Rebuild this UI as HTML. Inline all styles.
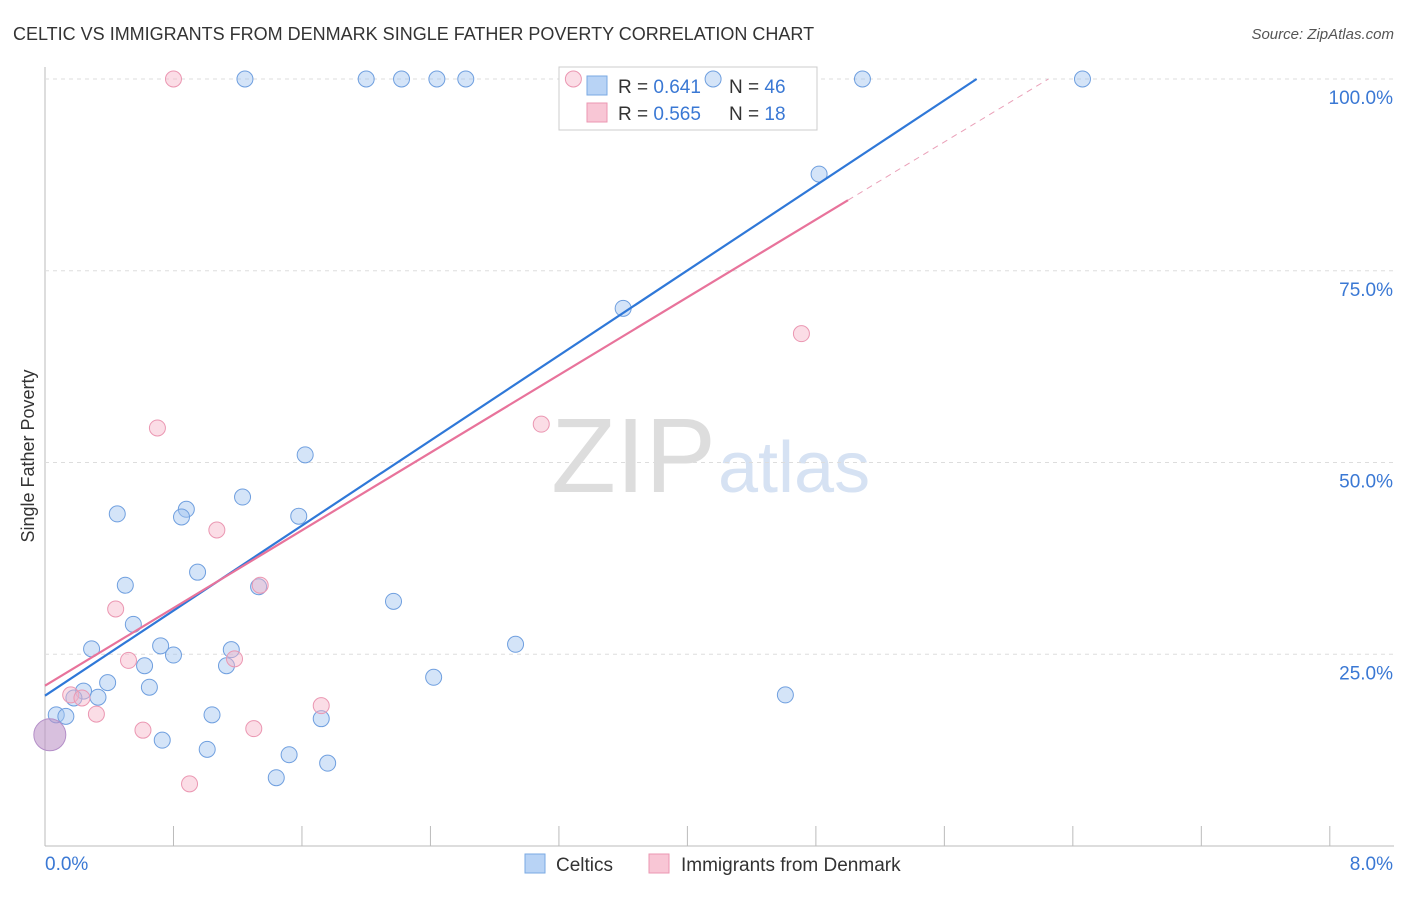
<!DOCTYPE html>
<html><head><meta charset="utf-8"><style>
body{margin:0;background:#fff;font-family:"Liberation Sans",sans-serif;}
svg text{font-family:"Liberation Sans",sans-serif;}
</style></head><body>
<svg id="c" width="1406" height="892" xmlns="http://www.w3.org/2000/svg">
<text x="13" y="40" font-size="18" fill="#333">CELTIC VS IMMIGRANTS FROM DENMARK SINGLE FATHER POVERTY CORRELATION CHART</text>
<text x="1394" y="39" font-size="15" fill="#555" text-anchor="end" font-style="italic">Source: ZipAtlas.com</text>
<text x="716" y="492" font-size="106" fill="#ddd" text-anchor="end" font-family="Liberation Serif">ZIP</text>
<text x="718" y="492" font-size="72" fill="#d6e2f3">atlas</text>
<text transform="translate(34,456) rotate(-90)" font-size="18" fill="#333" text-anchor="middle">Single Father Poverty</text>
<g id="grid"></g>
<g>
<rect x="559" y="67" width="258" height="63" fill="#fff" stroke="#ccc"/>
<rect x="587" y="76" width="20" height="19" fill="#b8d3f5" stroke="#7aa9e3"/>
<rect x="587" y="103" width="20" height="19" fill="#f8c6d5" stroke="#eb97b2"/>
<text x="618" y="93" font-size="19" fill="#333">R = <tspan fill="#3a78d4">0.641</tspan>  <tspan x="729">N = </tspan><tspan fill="#3a78d4">46</tspan></text>
<text x="618" y="120" font-size="19" fill="#333">R = <tspan fill="#3a78d4">0.565</tspan>  <tspan x="729">N = </tspan><tspan fill="#3a78d4"> 18</tspan></text>
</g>
<g id="pts"></g><g id="lines"></g>
<g>
<rect x="525" y="854" width="20" height="19" fill="#b8d3f5" stroke="#7aa9e3"/>
<text x="556" y="871" font-size="19" fill="#333">Celtics</text>
<rect x="649" y="854" width="20" height="19" fill="#f8c6d5" stroke="#eb97b2"/>
<text x="681" y="871" font-size="19" fill="#333">Immigrants from Denmark</text>
</g>
</svg>
<script>
const xTicks=[0,0.8,1.6,2.4,3.2,4,4.8,5.6,6.4,7.2,8];
const yTicks=[25,50,75,100];
const blueX=[1.245,2.0,2.22,2.44,2.62,4.16,5.09,6.46,4.82,3.6,1.62,1.23,0.88,0.85,0.45,1.58,0.95,0.5,1.33,2.17,0.55,0.29,0.72,0.8,1.16,2.93,0.62,1.13,0.39,0.65,2.42,0.24,0.33,0.18,4.61,0.07,0.13,1.04,1.72,0.73,1.01,1.52,1.76,1.44];
const blueY=[100,100,100,100,100,100,100,100,87.6,70.1,51.0,45.5,43.9,42.9,43.3,43.0,35.7,34.0,33.8,31.9,28.9,25.7,26.1,24.9,25.6,26.3,23.5,23.5,21.3,20.7,22.0,20.2,19.4,19.3,19.7,17.1,16.9,17.1,16.6,13.8,12.6,11.9,10.8,8.9];
const pinkX=[0.8,3.29,0.7,3.09,4.71,1.07,0.44,1.34,0.52,1.18,0.16,0.23,0.32,1.72,0.61,1.3,0.9];
const pinkY=[100,100,54.5,55.0,66.8,41.2,30.9,34.0,24.2,24.4,19.7,19.3,17.2,18.3,15.1,15.3,8.1];
const bigX=[0.03], bigY=[14.5];
const blueTrend=[19.6,13.86], pinkTrend=[20.9,12.66];
const X=v=>45+v*160.6, Y=v=>846-v*7.67;
const NS="http://www.w3.org/2000/svg";
function mk(p,t,a){const e=document.createElementNS(NS,t);for(const k in a)e.setAttribute(k,a[k]);p.appendChild(e);return e;}
const g=document.getElementById('grid');
const ax=mk(g,'line',{x1:45,y1:67,x2:45,y2:846,stroke:'#bbb'});


const bx=mk(g,'line',{x1:45,y1:846,x2:1394,y2:846,stroke:'#bbb'});


yTicks.forEach(t=>{
 const l=mk(g,'line',{x1:45,y1:Y(t),x2:1394,y2:Y(t),stroke:'#ddd','stroke-dasharray':'4,4'});
 
 
 const tx=mk(g,'text',{x:1393,y:Y(t)+25,'font-size':19,fill:'#3a78d4','text-anchor':'end'});
 tx.textContent=t.toFixed(1)+'%';
 
 
});
xTicks.forEach(t=>{
 const l=mk(g,'line',{x1:X(t),y1:826,x2:X(t),y2:846,stroke:'#bbb'});
 
 
});
[[0,45,'start'],[8,1393,'end']].forEach(([v,x,a])=>{
 const tx=mk(g,'text',{x:x,y:870,'font-size':19,fill:'#3a78d4','text-anchor':a});
 tx.textContent=v.toFixed(1)+'%';
 
 
});
const p=document.getElementById('pts');
blueX.forEach((v,i)=>{
 const c=mk(p,'circle',{cx:X(v),cy:Y(blueY[i]),r:8,fill:'rgba(160,196,240,0.45)',stroke:'#6f9fdf','stroke-width':1});
 
 
});
pinkX.forEach((v,i)=>{
 const c=mk(p,'circle',{cx:X(v),cy:Y(pinkY[i]),r:8,fill:'rgba(246,180,200,0.45)',stroke:'#eb97b2','stroke-width':1});
 
 
});
bigX.forEach((v,i)=>{
 const c=mk(p,'circle',{cx:X(v),cy:Y(bigY[i]),r:16,fill:'rgba(190,150,200,0.6)',stroke:'#b48fc8'});
 
 
});
const L=document.getElementById('lines');
const bEnd=(100-blueTrend[0])/blueTrend[1];
const bl=mk(L,'line',{x1:X(0),y1:Y(blueTrend[0]),x2:X(bEnd),y2:Y(100),stroke:'#2f78d8','stroke-width':2.2});


const pSolid=5.0,pEnd=(100-pinkTrend[0])/pinkTrend[1];
const pl=mk(L,'line',{x1:X(0),y1:Y(pinkTrend[0]),x2:X(pSolid),y2:Y(pinkTrend[0]+pinkTrend[1]*pSolid),stroke:'#e8739b','stroke-width':2.2});


const pd=mk(L,'line',{x1:X(pSolid),y1:Y(pinkTrend[0]+pinkTrend[1]*pSolid),x2:X(pEnd),y2:Y(100),stroke:'#eaa0b8','stroke-width':1,'stroke-dasharray':'6,5'});


</script>
</body></html>
